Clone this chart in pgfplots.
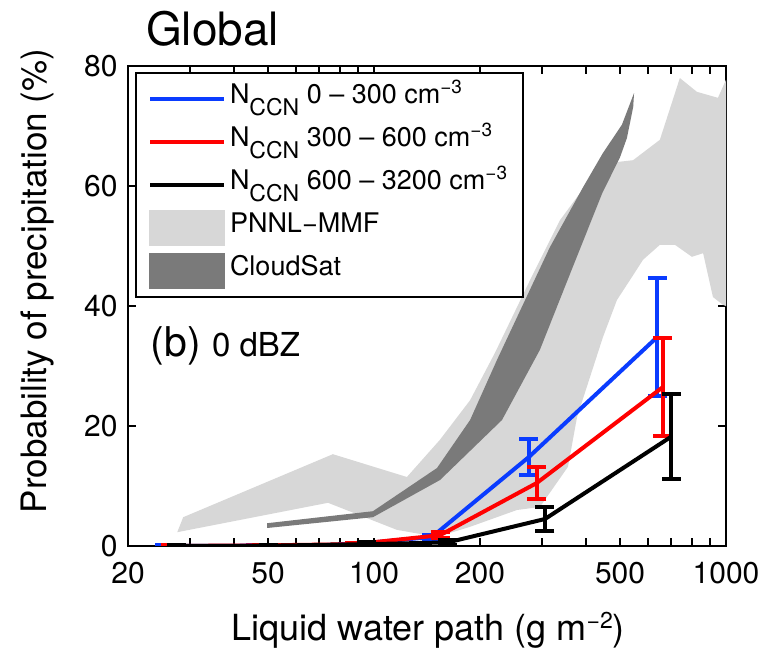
\documentclass[border=0pt]{standalone}
\usepackage{pgfplots}
\pgfplotsset{compat=1.18}
\usepackage{fontspec}
\setmainfont{TeX Gyre Heros}

\definecolor{ccnblue}{RGB}{10,60,255}
\definecolor{ccnred}{RGB}{255,0,0}
\definecolor{mmfgray}{RGB}{215,215,215}
\definecolor{satgray}{RGB}{122,122,122}

% N_CCN legend label with the big, low subscript
\newcommand{\ncn}[1]{N\raisebox{-6pt}{\fontsize{11.5}{12}\selectfont CCN}\ #1 cm\raisebox{5pt}{\fontsize{9.5}{10}\selectfont −3}}

\begin{document}
\begin{tikzpicture}
\begin{semilogxaxis}[
    name=ax,
    clip mode=individual,
    scale only axis,
    width=299pt, height=240pt,
    xmin=20, xmax=1000, ymin=0, ymax=80,
    xtick={20,50,100,200,500,1000},
    xticklabels={20,50,100,200,500,1000},
    minor xtick={30,40,60,70,80,90,300,400,600,700,800,900},
    ytick={0,20,40,60,80},
    tick align=inside,
    major tick length=4pt, minor tick length=4pt,
    every tick/.style={black, line width=1pt},
    axis line style={line width=1pt},
    tick label style={font=\fontsize{15}{18}\selectfont},
    xticklabel style={inner sep=0pt, yshift=-8pt},
    yticklabel style={inner sep=0pt, xshift=-5pt},
    /pgf/number format/assume math mode=true,
    xlabel={Liquid water path (g m\raisebox{6pt}{\fontsize{11.5}{12}\selectfont −2})},
    ylabel={Probability of precipitation (\%)},
    xlabel style={font=\fontsize{18}{20}\selectfont,
        at={(axis description cs:0.502,-0.175)}, anchor=center},
    ylabel style={font=\fontsize{17.5}{20}\selectfont,
        at={(axis description cs:-0.152,0.552)}, anchor=center},
    legend style={at={(rel axis cs:0.0117,0.9875)}, anchor=north west,
        draw=black, line width=1pt, fill=white,
        font=\fontsize{13.5}{15}\selectfont,
        inner xsep=6pt, inner ysep=3pt, row sep=1.5pt,
        nodes={inner sep=2pt, text height=10pt, text depth=6pt}},
    legend cell align=left,
    legend image code/.code={\draw[#1, line width=2pt] (0pt,0pt) -- (37pt,0pt);},
]

% PNNL-MMF range (upper edge left to right, then lower edge right to left)
\addplot[draw=none, fill=mmfgray, forget plot] coordinates {
    (28.7,4.8) (76.4,15.3) (124,11.5) (153.9,17.7) (187.5,24.3) (220.6,32.2)
    (277.4,44.3) (337.5,54.3) (384.6,58.8) (438.2,62.3) (490,64) (544.4,64.3)
    (648.8,67.7) (739.5,78) (826.5,75.7) (948.5,74.7) (1000,77.7)
    (1000,40) (980,40.2) (918,41.5) (861,48.8) (800,48.2) (716,50.2) (649,50.2)
    (581,47.7) (540,44.8) (490,41) (447,34.8) (377.5,21.5) (355.7,13.2)
    (296,6.5) (254.7,6) (187.5,3.2) (151,1.5) (116,2.7) (74,7.2) (27.6,2.3)
};

% CloudSat range
\addplot[draw=none, fill=satgray, forget plot] coordinates {
    (49.7,3.8) (99.3,5.8) (151,13) (187.5,21) (223.5,31) (316,49.8)
    (392.6,59.8) (447,65.5) (506,70.2) (548,75.5)
    (545,73.2) (523,68) (500,64.8) (445,58.8) (367,46.5) (296,32.7)
    (231,21) (154,11) (99.3,4.8) (49.7,3)
};

\addplot[ccnblue, line width=2pt, mark=none,
    error bars/.cd, y dir=both, y explicit,
    error bar style={line width=2pt},
    error mark options={rotate=90, line width=2pt, mark size=4.75pt}]
coordinates {
    (25.4,0) +- (0,0.1)
    (46,0.05) +- (0,0.1)
    (84,0.2) +- (0,0.15)
    (146,1.5) +- (0,0.4)
    (275,14.8) +- (0,3)
    (637,34.8) +- (0,9.8)
};
\addlegendentry{\ncn{0 -- 300}}

\addplot[ccnred, line width=2pt, mark=none,
    error bars/.cd, y dir=both, y explicit,
    error bar style={line width=2pt},
    error mark options={rotate=90, line width=2pt, mark size=4.75pt}]
coordinates {
    (26.4,0) +- (0,0.1)
    (48,0.1) +- (0,0.1)
    (88,0.3) +- (0,0.2)
    (154,1.8) +- (0,0.5)
    (290,10.5) +- (0,2.7)
    (662,26.5) +- (0,8.2)
};
\addlegendentry{\ncn{300 -- 600}}

\addplot[black, line width=2pt, mark=none,
    error bars/.cd, y dir=both, y explicit,
    error bar style={line width=2pt},
    error mark options={rotate=90, line width=2pt, mark size=4.75pt}]
coordinates {
    (27.5,0) +- (0,0.1)
    (50,0.05) +- (0,0.1)
    (95,0.3) +- (0,0.3)
    (162,0.6) +- (0,0.4)
    (306,4.5) +- (0,2)
    (698,18.2) +- (0,7.1)
};
\addlegendentry{\ncn{600 -- 3200}}

\addlegendimage{legend image code/.code={\fill[mmfgray] (0pt,-8.5pt) rectangle (37pt,8.5pt);}}
\addlegendentry{PNNL−MMF}
\addlegendimage{legend image code/.code={\fill[satgray] (0pt,-8.5pt) rectangle (37pt,8.5pt);}}
\addlegendentry{CloudSat}

\node[anchor=base west, font=\fontsize{20.5}{22}\selectfont]
    at (rel axis cs:0.026,0.394) {(b) {\fontsize{16.5}{18}\selectfont 0 dBZ}};
\end{semilogxaxis}
\node[anchor=base west, font=\fontsize{23}{26}\selectfont]
    at ([xshift=5.5pt, yshift=10.5pt]ax.north west) {Global};
\path[use as bounding box] ([xshift=-64pt, yshift=-52pt]ax.south west)
    rectangle ([xshift=322.5pt, yshift=273pt]ax.south west);
\end{tikzpicture}
\end{document}
